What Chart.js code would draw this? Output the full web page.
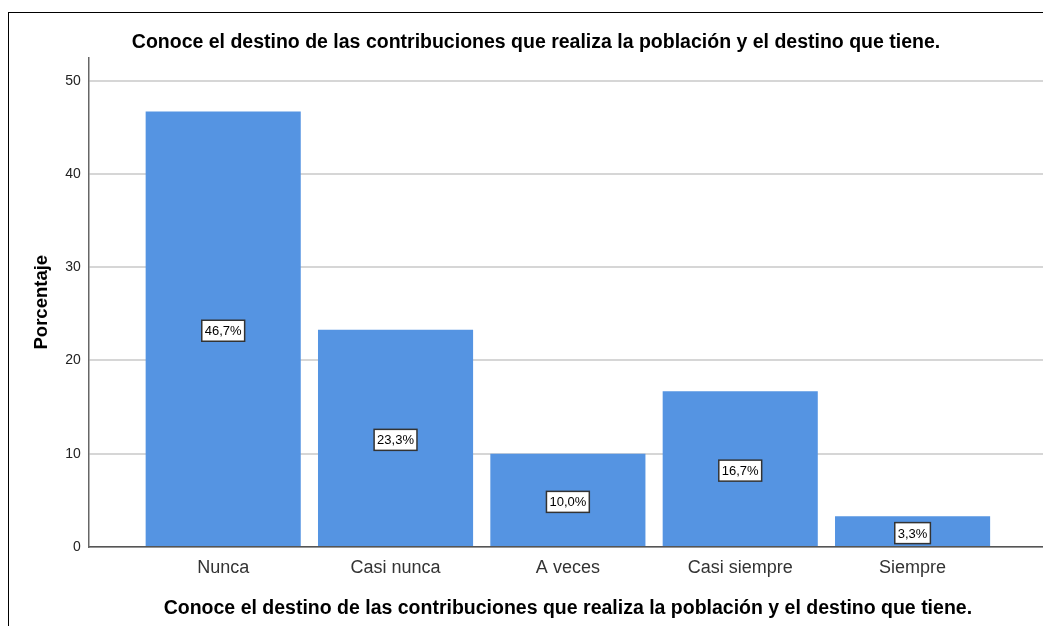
<!DOCTYPE html>
<html>
<head>
<meta charset="utf-8">
<script src="https://cdn.jsdelivr.net/npm/chart.js@4.4.1/dist/chart.umd.min.js"></script>
<style>
  body { margin: 0; background: #fff; overflow: hidden; width: 1043px; height: 626px; }
  #frame { position: absolute; left: 8px; top: 12px; width: 1100px; height: 700px; border: 1px solid #000; }
  #chart { position: absolute; left: 9px; top: 13px; }
</style>
</head>
<body>
<div id="frame"></div>
<canvas id="chart" width="1052" height="611"></canvas>
<script>
const chartTitle = 'Conoce el destino de las contribuciones que realiza la población y el destino que tiene.';
const categories = ['Nunca', 'Casi nunca', 'A veces', 'Casi siempre', 'Siempre'];
const percentages = [46.7, 23.3, 10.0, 16.7, 3.3];
const yTicks = [0, 10, 20, 30, 40, 50];

const fontFamily = "'Liberation Sans', Arial, sans-serif";

// white boxes with the percent in the middle of each bar
const barLabels = {
  id: 'barLabels',
  afterDatasetsDraw(chart) {
    const ctx = chart.ctx;
    const meta = chart.getDatasetMeta(0);
    ctx.save();
    ctx.font = '13px ' + fontFamily;
    ctx.textAlign = 'center';
    ctx.textBaseline = 'middle';
    meta.data.forEach(function (bar, i) {
      const txt = percentages[i].toFixed(1).replace('.', ',') + '%';
      const cx = bar.x;
      const cy = (bar.y + bar.base) / 2 + 2;
      const w = ctx.measureText(txt).width + 6;
      const h = 21;
      ctx.fillStyle = '#fff';
      ctx.fillRect(cx - w / 2, cy - h / 2, w, h);
      ctx.strokeStyle = '#333';
      ctx.lineWidth = 1.5;
      ctx.strokeRect(cx - w / 2, cy - h / 2, w, h);
      ctx.fillStyle = '#000';
      ctx.fillText(txt, cx, cy + 1);
    });
    ctx.restore();
  }
};

const ctx = document.getElementById('chart').getContext('2d');
const chart = new Chart(ctx, {
  type: 'bar',
  data: {
    datasets: [{
      data: categories.map(function (c, i) { return { x: i, y: percentages[i] }; }),
      backgroundColor: '#5594e2',
      borderWidth: 0,
      barPercentage: 0.9,
      categoryPercentage: 1.0
    }]
  },
  options: {
    responsive: false,
    devicePixelRatio: 1,
    animation: false,
    layout: { padding: { left: 16, right: 14, top: 0, bottom: 0 } },
    plugins: {
      legend: { display: false },
      tooltip: { enabled: false },
      title: {
        display: true,
        text: chartTitle,
        color: '#000',
        font: { family: fontFamily, size: 19.5, weight: 'bold' },
        padding: { top: 18, bottom: 3 }
      }
    },
    scales: {
      x: {
        type: 'linear',
        offset: false,
        min: -0.78,
        max: 4.78,
        afterBuildTicks: function (axis) {
          axis.ticks = categories.map(function (c, i) { return { value: i }; });
        },
        ticks: {
          autoSkip: false,
          maxRotation: 0,
          padding: 10,
          color: '#333',
          font: { family: fontFamily, size: 18 },
          callback: function (v) { return categories[v]; }
        },
        grid: { display: false, drawTicks: false },
        border: { color: '#555', width: 1.5 },
        title: {
          display: true,
          text: chartTitle,
          color: '#000',
          font: { family: fontFamily, size: 19.5, weight: 'bold' },
          padding: { top: 8, bottom: 4 }
        }
      },
      y: {
        min: 0,
        max: 52.5,
        afterBuildTicks: function (axis) {
          axis.ticks = yTicks.map(function (v) { return { value: v }; });
        },
        ticks: {
          padding: 8,
          color: '#222',
          font: { family: fontFamily, size: 14 }
        },
        grid: { color: '#d6d6d6', lineWidth: 2, drawTicks: false },
        border: { color: '#666', width: 1.5 },
        title: {
          display: true,
          text: 'Porcentaje',
          color: '#000',
          font: { family: fontFamily, size: 18.5, weight: 'bold' },
          padding: { top: 6, bottom: 4 }
        }
      }
    }
  },
  plugins: [barLabels]
});
</script>
</body>
</html>
